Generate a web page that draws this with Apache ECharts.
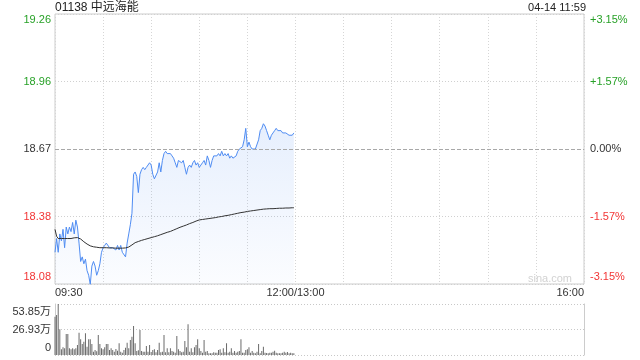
<!DOCTYPE html>
<html><head><meta charset="utf-8">
<script src="https://cdn.jsdelivr.net/npm/echarts@6/dist/echarts.min.js"></script>
<style>html,body{margin:0;padding:0;background:#fff}#c{width:640px;height:360px}</style>
</head><body><div id="c"></div>
<script>
const stockTitle = '01138 中远海能';
const stampText = '04-14 11:59';
const watermark = 'sina.com';
const prevClose = 18.67;
const priceStep = 0.29405;
const priceTickLabels = ['18.08', '18.38', '18.67', '18.96', '19.26'];
const pctTickLabels = ['-3.15%', '-1.57%', '0.00%', '+1.57%', '+3.15%'];
const timeTickLabels = { 0: '09:30', 150: '12:00/13:00', 330: '16:00' };
const volTickLabels = ['0', '26.93万', '53.85万'];
const volMax = 53.85;
const totalMinutes = 330;

const prices = [
  18.22, 18.28, 18.22, 18.30, 18.27, 18.32, 18.24, 18.33, 18.30, 18.33,
  18.31, 18.35, 18.30, 18.36, 18.33, 18.26, 18.18, 18.20, 18.17, 18.19,
  18.14, 18.12, 18.08, 18.16, 18.18, 18.16, 18.12, 18.14, 18.17, 18.22,
  18.24, 18.25, 18.26, 18.26, 18.24, 18.24, 18.24, 18.24, 18.23, 18.25,
  18.23, 18.25, 18.22, 18.22, 18.20, 18.26, 18.30, 18.34, 18.39, 18.56,
  18.57, 18.55, 18.48, 18.56, 18.58, 18.59, 18.58, 18.59, 18.59, 18.61,
  18.60, 18.56, 18.54, 18.54, 18.57, 18.61, 18.57, 18.62, 18.65, 18.66,
  18.65, 18.65, 18.65, 18.64, 18.63, 18.61, 18.59, 18.62, 18.62, 18.61,
  18.62, 18.59, 18.56, 18.59, 18.60, 18.59, 18.61, 18.62, 18.60, 18.61,
  18.59, 18.60, 18.61, 18.62, 18.60, 18.64, 18.62, 18.59, 18.62, 18.64,
  18.64, 18.64, 18.65, 18.64, 18.66, 18.64, 18.65, 18.64, 18.65, 18.63,
  18.64, 18.63, 18.63, 18.64, 18.66, 18.67, 18.67, 18.68, 18.71, 18.76,
  18.68, 18.70, 18.68, 18.67, 18.67, 18.67, 18.67, 18.71, 18.75, 18.76,
  18.78, 18.77, 18.75, 18.73, 18.71, 18.73, 18.74, 18.75, 18.76, 18.75,
  18.75, 18.75, 18.74, 18.74, 18.74, 18.74, 18.73, 18.73, 18.73, 18.74
];

const avgPrices = [
  18.320, 18.290, 18.280, 18.280, 18.280, 18.280, 18.280, 18.280, 18.280, 18.280,
  18.280, 18.282, 18.283, 18.284, 18.284, 18.283, 18.278, 18.272, 18.266, 18.261,
  18.256, 18.252, 18.248, 18.246, 18.244, 18.243, 18.242, 18.241, 18.240, 18.240,
  18.240, 18.240, 18.240, 18.239, 18.239, 18.239, 18.239, 18.238, 18.238, 18.238,
  18.238, 18.238, 18.238, 18.238, 18.239, 18.241, 18.243, 18.247, 18.252, 18.258,
  18.262, 18.265, 18.267, 18.270, 18.272, 18.274, 18.276, 18.278, 18.280, 18.282,
  18.284, 18.286, 18.288, 18.290, 18.292, 18.295, 18.297, 18.300, 18.302, 18.305,
  18.307, 18.309, 18.311, 18.314, 18.317, 18.320, 18.323, 18.326, 18.329, 18.332,
  18.334, 18.336, 18.339, 18.342, 18.345, 18.348, 18.350, 18.353, 18.356, 18.359,
  18.361, 18.362, 18.363, 18.364, 18.365, 18.366, 18.367, 18.368, 18.369, 18.370,
  18.371, 18.373, 18.374, 18.375, 18.376, 18.377, 18.379, 18.380, 18.381, 18.383,
  18.384, 18.386, 18.387, 18.388, 18.390, 18.391, 18.393, 18.394, 18.395, 18.397,
  18.398, 18.399, 18.400, 18.401, 18.402, 18.403, 18.404, 18.405, 18.406, 18.407,
  18.408, 18.408, 18.409, 18.409, 18.410, 18.410, 18.410, 18.411, 18.411, 18.411,
  18.412, 18.412, 18.412, 18.412, 18.413, 18.413, 18.413, 18.413, 18.414, 18.414
];

const volumes = [
  40.5, 42.2, 53.85, 27.1, 6.0, 8.1, 7.0, 22.2, 22.2, 7.0,
  6.0, 7.0, 6.0, 7.0, 10.6, 23.6, 16.5, 11.6, 14.1, 22.9,
  8.8, 16.5, 16.5, 11.6, 3.5, 5.3, 4.0, 21.1, 11.6, 7.0,
  6.0, 8.1, 11.6, 11.6, 5.3, 7.0, 5.3, 3.5, 6.3, 4.6,
  12.3, 3.5, 2.5, 5.3, 7.7, 13.0, 7.0, 15.8, 19.4, 30.6,
  12.3, 4.2, 5.0, 26.4, 4.2, 3.5, 3.5, 9.5, 3.5, 10.6,
  3.2, 5.3, 6.0, 2.8, 5.3, 13.0, 2.8, 3.5, 21.1, 2.8,
  7.0, 2.8, 7.0, 4.2, 3.5, 2.5, 20.1, 6.0, 4.2, 3.0,
  3.5, 14.8, 8.1, 32.4, 3.5, 7.0, 2.8, 8.1, 10.6, 16.5,
  7.0, 4.2, 2.5, 15.8, 3.5, 4.2, 1.8, 1.8, 1.8, 2.8,
  2.5, 2.5, 5.3, 6.0, 2.5, 7.0, 3.0, 12.3, 2.5, 3.5,
  7.0, 2.5, 4.2, 2.5, 3.5, 4.2, 16.5, 2.5, 2.5, 5.3,
  6.0, 8.1, 2.5, 4.2, 2.5, 1.8, 3.5, 11.6, 1.8, 4.2,
  8.8, 2.5, 2.0, 1.8, 2.5, 2.5, 3.5, 4.6, 2.5, 1.8,
  1.8, 1.8, 2.5, 3.5, 2.5, 3.2, 1.8, 2.5, 1.8, 1.8
];

const FONT = 'Arial, "Liberation Sans", "Noto Sans CJK SC", sans-serif';
const GREEN = '#27a127';
const RED = '#f23535';
const DARK = '#333333';

const toLevel = p => (p - prevClose) / priceStep;
const priceData = prices.map((p, i) => [i, toLevel(p)]);
const avgData = avgPrices.map((p, i) => [i, toLevel(p)]);
const volData = volumes.map((v, i) => [i, v]);

const keyByIdx = ['rb', 'r', 'k', 'g', 'gt'];
const richBase = { fontSize: 11, fontFamily: FONT };
const mainRich = {
  gt: Object.assign({}, richBase, { color: GREEN, padding: [12, 0, 0, 0] }),
  g: Object.assign({}, richBase, { color: GREEN }),
  k: Object.assign({}, richBase, { color: DARK }),
  r: Object.assign({}, richBase, { color: RED }),
  rb: Object.assign({}, richBase, { color: RED, padding: [0, 0, 14, 0] })
};
const volRich = {
  t: Object.assign({}, richBase, { color: DARK, padding: [16, 0, 0, 0] }),
  m: Object.assign({}, richBase, { color: DARK }),
  b: Object.assign({}, richBase, { color: DARK, padding: [0, 0, 14, 0] })
};

const chart = echarts.init(document.getElementById('c'), null, { renderer: 'canvas' });
chart.setOption({
  animation: false,
  backgroundColor: '#fff',
  textStyle: { fontFamily: FONT },
  grid: [
    { left: 55, right: 56, top: 14, height: 270, show: true, borderColor: '#cccccc', borderWidth: 1, backgroundColor: 'transparent' },
    { left: 55, right: 56, top: 304, height: 51 }
  ],
  graphic: [
    { type: 'text', x: 55, y: 7.5, style: { text: stockTitle, fill: '#222', font: '12px ' + FONT, align: 'left', verticalAlign: 'middle' } },
    { type: 'text', x: 586, y: 7.5, style: { text: stampText, fill: '#222', font: '11px ' + FONT, align: 'right', verticalAlign: 'middle' } },
    { type: 'text', x: 572, y: 279, z: 0, style: { text: watermark, fill: '#d2d2d2', font: '11px ' + FONT, align: 'right', verticalAlign: 'middle' } }
  ],
  xAxis: [
    {
      type: 'value', gridIndex: 0, min: 0, max: totalMinutes, interval: 30,
      axisLine: { show: false }, axisTick: { show: false },
      axisLabel: {
        show: true, margin: 3, fontSize: 11, color: DARK, fontFamily: FONT,
        showMinLabel: true, showMaxLabel: true,
        alignMinLabel: 'left', alignMaxLabel: 'right',
        formatter: v => timeTickLabels[Math.round(v)] || ''
      },
      splitLine: { show: true, lineStyle: { color: '#d6d6d6', type: [1, 2], width: 1 } }
    },
    {
      type: 'value', gridIndex: 1, min: 0, max: totalMinutes, interval: 30,
      axisLine: { show: false }, axisTick: { show: false }, axisLabel: { show: false },
      splitLine: { show: false }
    }
  ],
  yAxis: [
    {
      type: 'value', gridIndex: 0, position: 'left', min: -2, max: 2, interval: 1,
      axisLine: { show: false }, axisTick: { show: false },
      axisLabel: {
        margin: 4, fontSize: 11, fontFamily: FONT,
        formatter: v => { const i = Math.round(v) + 2; return '{' + keyByIdx[i] + '|' + priceTickLabels[i] + '}'; },
        rich: mainRich
      },
      splitLine: { show: true, lineStyle: { color: '#d0d0d0', type: [1, 2], width: 1 } }
    },
    {
      type: 'value', gridIndex: 0, position: 'right', min: -2, max: 2, interval: 1,
      axisLine: { show: false }, axisTick: { show: false },
      axisLabel: {
        margin: 6, fontSize: 11, fontFamily: FONT,
        formatter: v => { const i = Math.round(v) + 2; return '{' + keyByIdx[i] + '|' + pctTickLabels[i] + '}'; },
        rich: mainRich
      },
      splitLine: { show: false }
    },
    {
      type: 'value', gridIndex: 1, position: 'left', min: 0, max: volMax, interval: volMax / 2,
      axisLine: { show: true, lineStyle: { color: '#cccccc', width: 1 } }, axisTick: { show: false },
      axisLabel: {
        margin: 4, fontSize: 11, fontFamily: FONT,
        formatter: v => { const i = Math.round(v / (volMax / 2)); return '{' + ['b', 'm', 't'][i] + '|' + volTickLabels[i] + '}'; },
        rich: volRich
      },
      splitLine: { show: true, lineStyle: { color: '#c8c8c8', type: [1, 2], width: 1 } }
    },
    {
      type: 'value', gridIndex: 1, position: 'right', min: 0, max: volMax, interval: volMax / 2,
      axisLine: { show: true, lineStyle: { color: '#cccccc', width: 1 } }, axisTick: { show: false },
      axisLabel: { show: false }, splitLine: { show: false }
    }
  ],
  series: [
    {
      type: 'line', xAxisIndex: 0, yAxisIndex: 0, data: priceData,
      showSymbol: false, symbol: 'none', smooth: false,
      lineStyle: { color: '#4f8cf2', width: 1 },
      areaStyle: {
        origin: 'start',
        color: new echarts.graphic.LinearGradient(0, 0, 0, 1, [
          { offset: 0, color: 'rgba(79,140,242,0.20)' },
          { offset: 1, color: 'rgba(79,140,242,0.03)' }
        ])
      },
      markLine: {
        silent: true, symbol: 'none', label: { show: false },
        lineStyle: { color: '#a8a8a8', type: [4, 2], width: 1 },
        data: [{ yAxis: 0 }]
      },
      z: 3
    },
    {
      type: 'line', xAxisIndex: 0, yAxisIndex: 0, data: avgData,
      showSymbol: false, symbol: 'none',
      lineStyle: { color: '#333333', width: 1 }, z: 4
    },
    {
      type: 'bar', xAxisIndex: 1, yAxisIndex: 2, data: volData,
      barWidth: 1, itemStyle: { color: '#6a6a6a' }
    }
  ]
});
</script>
</body></html>
